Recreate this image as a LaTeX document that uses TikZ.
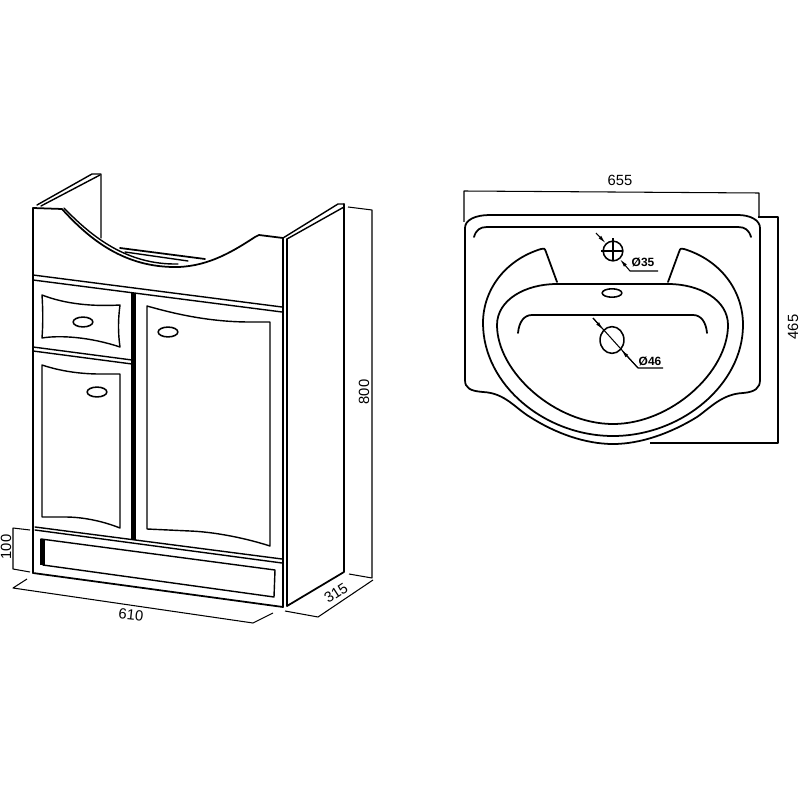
\documentclass[tikz,border=0pt]{standalone}
\usepackage{fontspec}
\setmainfont{Liberation Sans}
\usetikzlibrary{shapes.geometric,arrows.meta}
\tikzstyle{thick line}=[line width=1.25pt,line join=round,line cap=round]
\tikzstyle{body}=[line width=1pt,line join=round,line cap=round]
\tikzstyle{dim}=[line width=0.75pt,line join=round]
\tikzstyle{bar}=[line width=3pt]
\tikzstyle{lab}=[inner sep=0pt,font=\fontsize{10.5}{12}\selectfont]
\tikzstyle{small lab}=[inner sep=0pt,font=\fontsize{8.5}{10}\selectfont\bfseries]
\tikzstyle{knob}=[ellipse,draw,line width=1.1pt,inner sep=0pt,minimum width=14pt,minimum height=7pt]
\tikzstyle{hole}=[ellipse,draw,line width=1.1pt,inner sep=0pt]
\tikzstyle{leader}=[line width=0.75pt,-{Latex[length=6pt,width=2.6pt]}]
\begin{document}
\begin{tikzpicture}[x=0.025cm,y=-0.025cm]
				\useasboundingbox (0,0) rectangle (800,800);

				%The back panel and the basin edge
				\draw[body] (37,205) -- (92,174) -- (101,174) -- (101,238);
				\draw[body] (41,206) -- (100,175);
				\draw[thick line] (120,248) -- (205,259);
				\draw[body] (125,252) -- (188,261);

				%The front panel
				\draw[thick line] (33,573) -- (33,208) -- (62,209) .. controls (90,240) and (125,268) .. (178,267) .. controls (210,266) and (235,250) .. (255,237) -- (259,235) -- (283,238) -- (283,607);
				\draw[body] (64,208) .. controls (92,237) and (127,265) .. (178,264);
				\draw[body] (287,239) -- (287,606);

				%The side panel
				\draw[body] (283,238) -- (338,204) -- (344,204);
				\draw[body] (287,239) -- (344,207);
				\draw[thick line] (344,204) -- (344,572) -- (287,606);

				%The rails
				\draw[body] (33,275) -- (282,307);
				\draw[body] (33,280) -- (282,312);
				\draw[body] (33,347) -- (132,360);
				\draw[body] (33,351) -- (132,364);
				\draw[body] (35,527) -- (282,559);
				\draw[body] (35,530) -- (282,563);
				\draw[thick line] (33,573) -- (283,607);
				\draw[bar] (133.5,293) -- (133.5,540);

				%The drawer
				\draw[body] (42,295) .. controls (60,302) and (85,307) .. (120,305) .. controls (118,320) and (118,333) .. (120,347) .. controls (90,337) and (60,335) .. (42,338) .. controls (43,325) and (43,310) .. cycle;
				\node[knob] (drawerknob) at (83,322) {};

				%The left door
				\draw[body] (42,517) -- (42,365) .. controls (60,371) and (80,374) .. (100,374) -- (120,374) -- (120,528) .. controls (105,522) and (85,517) .. (65,517) -- cycle;
				\node[knob] (leftknob) at (97,392) {};

				%The right door
				\draw[body] (147,529) -- (147,306) .. controls (175,314) and (210,322) .. (250,322) -- (270,322) -- (270,546) .. controls (245,538) and (215,532) .. (190,531) -- cycle;
				\node[knob] (rightknob) at (168,332) {};

				%The plinth
				\draw[body] (41,539) -- (275,570) -- (274,597) -- (43,565) -- cycle;
				\draw[bar] (42.5,539) -- (42.5,565);

				%The cabinet sizes
				\draw[dim] (30,530) -- (13,528) -- (13,569) -- (30,572);
				\draw[dim] (27,579) -- (13,588) -- (253,623) -- (273,613);
				\draw[dim] (285,611) -- (318,617) -- (373,580);
				\draw[dim] (348,207) -- (372,210) -- (372,578) -- (349,574);
				\node[lab,rotate=90] (h100) at (6,547) {100};
				\node[lab,rotate=-6] (w610) at (131,615) {610};
				\node[lab,rotate=33] (d315) at (336,593) {315};
				\node[lab,rotate=90] (h800) at (364,392) {800};

				%The basin outline
				\draw[thick line] (465,380) .. controls (465,388) and (470,391) .. (483,392) .. controls (505,393) and (515,408) .. (530,417) .. controls (555,433) and (585,444) .. (613,444) .. controls (641,444) and (671,433) .. (697,417) .. controls (710,408) and (722,394) .. (743,393) .. controls (755,392) and (760,388) .. (760,380) -- (760,228) .. controls (760,220) and (750,215) .. (738,215) -- (490,215) .. controls (475,215) and (465,220) .. (465,228) -- cycle;
				\draw[thick line] (474,237) .. controls (476,230) and (480,227) .. (487,227) -- (738,227) .. controls (745,227) and (749,230) .. (751,237);

				%The bowl
				\draw[thick line] (557,282) -- (546,252) .. controls (545,248) and (543,248) .. (541,249) .. controls (505,260) and (483,290) .. (483,323) .. controls (483,385) and (545,436) .. (613,436) .. controls (681,436) and (743,385) .. (743,325) .. controls (743,290) and (720,260) .. (684,249) .. controls (682,248) and (680,248) .. (679,252) -- (668,282);
				\draw[thick line] (668,284) -- (557,284) .. controls (525,284) and (497,300) .. (497,325) .. controls (497,372) and (555,424) .. (613,424) .. controls (671,424) and (728,372) .. (728,325) .. controls (728,300) and (700,284) .. (668,284);
				\draw[thick line] (518,333) .. controls (519,322) and (524,315) .. (532,315) -- (693,315) .. controls (701,315) and (706,322) .. (707,333);

				%The holes
				\node[hole,minimum width=14pt,minimum height=6pt] (overflow) at (612,293) {};
				\node[circle,draw,line width=1.1pt,inner sep=0pt,minimum size=14pt] (tap) at (613,251) {};
				\node[hole,minimum width=17pt,minimum height=19pt] (drain) at (612,340) {};
				\draw[dim] (tap.west) ++(-1,0) -- ++(22,0);
				\draw[dim] (tap.north) ++(0,-2) -- ++(0,23);

				%The basin sizes
				\draw[dim] (464,222) -- (464,191) -- (759,193) -- (759,217);
				\draw[dim] (758,217) -- (778,217) -- (778,443) -- (650,443);
				\node[lab] (w655) at (620,180) {655};
				\node[lab,rotate=90] (h465) at (793,327) {465};

				%The hole sizes
				\coordinate (tapin) at (596,233);
				\coordinate (tapout) at (630,271);
				\coordinate (tapend) at (658,271);
				\coordinate (drainin) at (593,318);
				\coordinate (drainout) at (638,368);
				\coordinate (drainend) at (663,368);
				\draw[leader] (tapin) -- (tap);
				\draw[leader] (tapend) -- (tapout) -- (tap);
				\draw[leader] (drainin) -- (drain);
				\draw[leader] (drainend) -- (drainout) -- (drain);
				\draw[dim] (drainin) -- (drainout);
				\node[small lab] (d35) at (643,262) {Ø35};
				\node[small lab] (d46) at (650,361) {Ø46};
			\end{tikzpicture}
\end{document}
